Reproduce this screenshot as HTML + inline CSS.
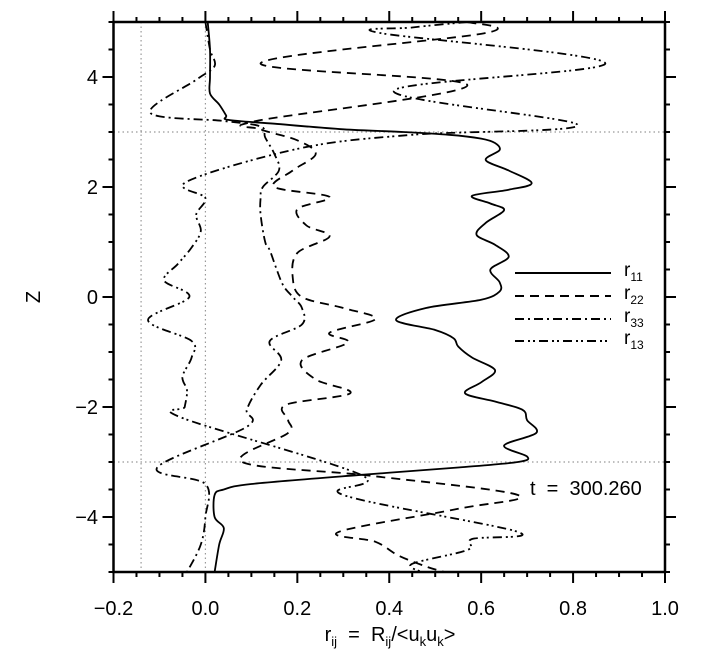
<!DOCTYPE html>
<html><head><meta charset="utf-8">
<style>
html,body{margin:0;padding:0;background:#fff;}
svg{display:block;font-family:"Liberation Sans","DejaVu Sans",sans-serif;}
.pre{white-space:pre;}
</style></head>
<body>
<svg id="chart" width="722" height="656" viewBox="0 0 722 656" xmlns="http://www.w3.org/2000/svg">
<g id="grid"></g>
<g id="series"></g>
<g id="axes"></g>
<g id="legend"></g>
<text class="pre" x="530" y="495" font-size="20">t  =  300.260</text>
<text class="pre" x="390" y="641" font-size="20" text-anchor="middle">r<tspan font-size="13" dy="5">ij</tspan><tspan dy="-5">  =  R</tspan><tspan font-size="13" dy="5">ij</tspan><tspan dy="-5">/&lt;u</tspan><tspan font-size="13" dy="5">k</tspan><tspan dy="-5">u</tspan><tspan font-size="13" dy="5">k</tspan><tspan dy="-5">&gt;</tspan></text>
<text x="40" y="297" font-size="20" text-anchor="middle" transform="rotate(-90 40 297)">Z</text>
</svg>
<script>
const xTicks = [-0.2, 0.0, 0.2, 0.4, 0.6, 0.8, 1.0];
const xTickLabels = ["\u22120.2", "0.0", "0.2", "0.4", "0.6", "0.8", "1.0"];
const yTicks = [-4, -2, 0, 2, 4];
const yTickLabels = ["\u22124", "\u22122", "0", "2", "4"];
const seriesNames = ["r11", "r22", "r33", "r13"];

const r11Z = [5,4.5,4.0,3.7,3.5,3.3,3.22,3.15,3.05,3.0,2.95,2.88,2.8,2.67,2.49,2.3,2.07,1.95,1.84,1.7,1.58,1.35,1.13,0.95,0.73,0.5,0.27,0.1,-0.05,-0.2,-0.42,-0.6,-0.75,-0.9,-1.1,-1.33,-1.55,-1.75,-1.9,-2.05,-2.24,-2.47,-2.7,-2.9,-3.0,-3.1,-3.24,-3.4,-3.5,-3.6,-4.0,-4.2,-4.5,-5];
const r11V = [0.005,0.01,0.01,0.01,0.03,0.045,0.05,0.15,0.3,0.43,0.53,0.6,0.63,0.64,0.61,0.66,0.71,0.66,0.58,0.62,0.65,0.61,0.59,0.63,0.66,0.62,0.64,0.64,0.6,0.48,0.415,0.5,0.54,0.55,0.58,0.63,0.6,0.565,0.63,0.69,0.70,0.72,0.65,0.70,0.68,0.55,0.33,0.1,0.04,0.02,0.02,0.04,0.03,0.02];

const r22Z = [5,4.8,4.25,3.85,3.2,3.05,2.85,2.6,2.3,2.0,1.82,1.6,1.3,1.1,0.8,0.36,0.0,-0.2,-0.4,-0.65,-0.83,-1.15,-1.5,-1.75,-1.96,-2.24,-2.47,-3.0,-3.25,-3.6,-3.85,-4.27,-4.45,-4.7,-4.9,-5];
const r22V = [0.57,0.61,0.12,0.57,0.11,0.12,0.2,0.24,0.19,0.15,0.27,0.2,0.22,0.27,0.2,0.19,0.21,0.3,0.37,0.27,0.31,0.21,0.24,0.315,0.175,0.18,0.18,0.08,0.36,0.68,0.55,0.29,0.37,0.42,0.48,0.52];

const r33Z = [5,4.5,4.2,3.95,3.35,3.2,3.1,2.9,2.6,2.3,2.0,1.8,1.5,1.0,0.85,0.5,0.2,0.0,-0.2,-0.5,-0.8,-1.15,-1.6,-2.05,-2.36,-3.1,-3.4,-4.0,-4.5,-5];
const r33V = [0.0,0.01,0.02,-0.02,-0.12,0.04,0.12,0.13,0.15,0.16,0.125,0.12,0.12,0.13,0.14,0.155,0.17,0.19,0.21,0.21,0.14,0.165,0.12,0.09,0.09,-0.105,0.0,0.0,-0.01,-0.04];

const r13Z = [5,4.9,4.8,4.25,3.75,3.13,2.95,2.71,2.1,1.8,1.5,1.2,0.9,0.6,0.3,0.0,-0.42,-0.8,-1.1,-1.45,-1.7,-2.0,-2.2,-3.24,-3.6,-4.27,-4.4,-4.6,-4.85,-5];
const r13V = [0.57,0.45,0.38,0.87,0.41,0.81,0.45,0.21,-0.04,0.0,-0.02,-0.01,-0.03,-0.06,-0.09,-0.035,-0.125,-0.03,-0.03,-0.05,-0.04,-0.045,-0.05,0.34,0.30,0.68,0.58,0.57,0.45,0.47];

const X0 = 113.5, X1 = 665, Y0 = 22, Y1 = 572;
const xMin = -0.2, xMax = 1.0, zMin = -5, zMax = 5;
function sx(v){ return X0 + (v - xMin) / (xMax - xMin) * (X1 - X0); }
function sy(z){ return Y1 - (z - zMin) / (zMax - zMin) * (Y1 - Y0); }
const NS = "http://www.w3.org/2000/svg";
function mk(tag){ return document.createElementNS(NS, tag); }

const grid = document.getElementById('grid');
[[-0.14,'v'],[0,'v'],[3,'h'],[-3,'h']].forEach(function(g){
  const l = mk('line');
  
  
  if (g[1] === 'v'){ l.setAttribute('x1', sx(g[0])); l.setAttribute('x2', sx(g[0])); l.setAttribute('y1', Y0); l.setAttribute('y2', Y1); }
  else { l.setAttribute('y1', sy(g[0])); l.setAttribute('y2', sy(g[0])); l.setAttribute('x1', X0); l.setAttribute('x2', X1); }
  l.setAttribute('stroke', '#999'); l.setAttribute('stroke-width', '1.2'); l.setAttribute('stroke-dasharray', '1.5,3');
  grid.appendChild(l);
});

function pathFor(zs, vs){
  const p = zs.map(function(z, i){ return [sx(vs[i]), sy(z)]; });
  let d = 'M' + p[0][0].toFixed(1) + ',' + p[0][1].toFixed(1);
  for (let i = 0; i < p.length - 1; i++){
    const a = p[Math.max(0, i-1)], b = p[i], c = p[i+1], e = p[Math.min(p.length-1, i+2)];
    const c1 = [b[0] + (c[0]-a[0])/6, b[1] + (c[1]-a[1])/6];
    const c2 = [c[0] - (e[0]-b[0])/6, c[1] - (e[1]-b[1])/6];
    d += ' C' + c1[0].toFixed(1) + ',' + c1[1].toFixed(1) + ' ' + c2[0].toFixed(1) + ',' + c2[1].toFixed(1) + ' ' + c[0].toFixed(1) + ',' + c[1].toFixed(1);
  }
  return d;
}
const dashes = ["", "9,6", "9,4,2,4", "9,4,2,3,2,4"];
const data = [[r11Z, r11V], [r22Z, r22V], [r33Z, r33V], [r13Z, r13V]];
const sg = document.getElementById('series');
data.forEach(function(s, i){
  const pth = mk('path');
  
  
  pth.setAttribute('d', pathFor(s[0], s[1]));
  pth.setAttribute('fill', 'none'); pth.setAttribute('stroke', '#000'); pth.setAttribute('stroke-width', '1.8');
  if (dashes[i]) pth.setAttribute('stroke-dasharray', dashes[i]);
  sg.appendChild(pth);
});

const ax = document.getElementById('axes');
const box = mk('rect');


box.setAttribute('x', X0); box.setAttribute('y', Y0); box.setAttribute('width', X1 - X0); box.setAttribute('height', Y1 - Y0);
box.setAttribute('fill', 'none'); box.setAttribute('stroke', '#000'); box.setAttribute('stroke-width', '2.5');
ax.appendChild(box);
function tick(x1, y1, x2, y2, name){
  const l = mk('line');
  
  
  l.setAttribute('x1', x1); l.setAttribute('y1', y1); l.setAttribute('x2', x2); l.setAttribute('y2', y2);
  l.setAttribute('stroke', '#000'); l.setAttribute('stroke-width', '2');
  ax.appendChild(l);
}
for (let k = 0; k <= 24; k++){
  const v = xMin + k * 0.05; const x = sx(v); const len = (k % 4 === 0) ? 11 : 5;
  tick(x, Y1, x, Y1 + len, 'x-tick');
  tick(x, Y0, x, Y0 - len, 'x-tick-top');
}
for (let k = 0; k <= 20; k++){
  const z = zMin + k * 0.5; const y = sy(z); const len = (k % 4 === 2) ? 11 : 5;
  tick(X0, y, X0 - len, y, 'y-tick');
  tick(X1, y, X1 + len, y, 'y-tick-right');
}
xTicks.forEach(function(v, i){
  const t = mk('text');
  
  
  t.setAttribute('x', sx(v)); t.setAttribute('y', 615); t.setAttribute('font-size', '20'); t.setAttribute('text-anchor', 'middle');
  t.textContent = xTickLabels[i];
  ax.appendChild(t);
});
yTicks.forEach(function(v, i){
  const t = mk('text');
  
  
  t.setAttribute('x', 98); t.setAttribute('y', sy(v) + 7); t.setAttribute('font-size', '20'); t.setAttribute('text-anchor', 'end');
  t.textContent = yTickLabels[i];
  ax.appendChild(t);
});

const lg = document.getElementById('legend');
const legY = [273, 296, 319, 341];
const subs = ["11", "22", "33", "13"];
seriesNames.forEach(function(n, i){
  const l = mk('line');
  
  
  l.setAttribute('x1', 515); l.setAttribute('x2', 611); l.setAttribute('y1', legY[i]); l.setAttribute('y2', legY[i]);
  l.setAttribute('stroke', '#000'); l.setAttribute('stroke-width', '2');
  if (dashes[i]) l.setAttribute('stroke-dasharray', dashes[i]);
  lg.appendChild(l);
  const t = mk('text');
  
  
  t.setAttribute('x', 624); t.setAttribute('y', legY[i] + 3); t.setAttribute('font-size', '19');
  const ts = mk('tspan'); ts.textContent = 'r'; t.appendChild(ts);
  const sb = mk('tspan'); sb.setAttribute('font-size', '12'); sb.setAttribute('dy', '5'); sb.textContent = subs[i]; t.appendChild(sb);
  lg.appendChild(t);
});
</script>
</body></html>
